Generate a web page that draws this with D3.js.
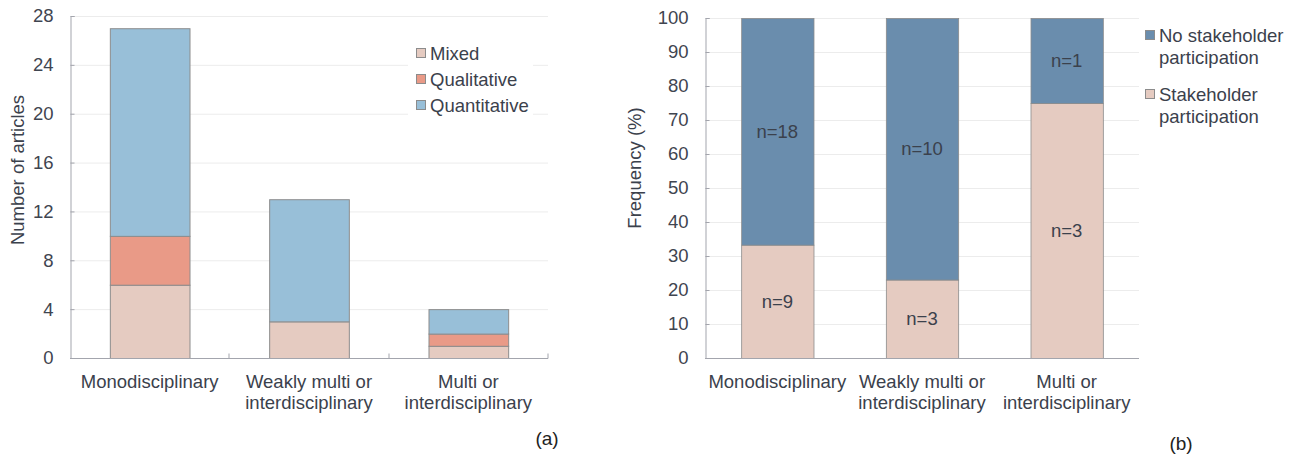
<!DOCTYPE html>
<html>
<head>
<meta charset="utf-8">
<script src="https://cdn.jsdelivr.net/npm/d3@7"></script>
<style>
  body { margin: 0; background: #fff; }
  svg { display: block; font-family: Arial, "Liberation Sans", sans-serif; }
  .tick text { fill: #3f4550; font-size: 18.5px; }
</style>
</head>
<body>
<svg id="chart" width="1298" height="455"></svg>
<script>
const categories = ['Monodisciplinary', 'Weakly multi or interdisciplinary', 'Multi or interdisciplinary'];
const catLines = [['Monodisciplinary'], ['Weakly multi or', 'interdisciplinary'], ['Multi or', 'interdisciplinary']];

// panel (a): number of articles by method
const methods = ['Mixed', 'Qualitative', 'Quantitative'];
const mixed = [6, 3, 1];
const qualitative = [4, 0, 1];
const quantitative = [17, 10, 2];
const articleTicks = [0, 4, 8, 12, 16, 20, 24, 28];

// panel (b): stakeholder participation counts
const participation = ['Stakeholder participation', 'No stakeholder participation'];
const withStake = [9, 3, 3];
const noStake = [18, 10, 1];
const freqTicks = [0, 10, 20, 30, 40, 50, 60, 70, 80, 90, 100];

const textColor = '#3b414c';
const fs = '18.5px';
const svg = d3.select('#chart');

// ---------- panel (a)
const a = { left: 70, right: 548, top: 16, bottom: 358 };
const xA = d3.scaleBand().domain(categories).range([a.left, a.right]).paddingInner(0.5).paddingOuter(0.25);
const yA = d3.scaleLinear().domain([0, 28]).range([a.bottom, a.top]);
const colA = d3.scaleOrdinal().domain(methods).range(['#e5cbc1', '#e99a87', '#98bfd8']);

const gA = svg.append('g');
gA.selectAll('.grid').data(articleTicks.slice(1)).enter().append('line')
  .attr('x1', a.left).attr('x2', a.right)
  .attr('y1', d => yA(d) + 0.5).attr('y2', d => yA(d) + 0.5)
  .attr('stroke', '#ececec');

const tableA = categories.map((c, i) => ({ cat: c, Mixed: mixed[i], Qualitative: qualitative[i], Quantitative: quantitative[i] }));
const stackA = d3.stack().keys(methods)(tableA);
gA.selectAll('.layer').data(stackA).enter().append('g')
  .attr('fill', d => colA(d.key))
  .selectAll('rect').data(d => d.filter(p => p[1] > p[0])).enter().append('rect')
  .attr('x', d => xA(d.data.cat) + 0.5)
  .attr('width', xA.bandwidth())
  .attr('y', d => yA(d[1]) + 0.5)
  .attr('height', d => yA(d[0]) - yA(d[1]))
  .attr('stroke', '#8c8c8c').attr('stroke-width', 1);

const axA = gA.append('g').attr('transform', `translate(${a.left + 0.5},0)`)
  .call(d3.axisLeft(yA).tickValues(articleTicks).tickSize(-4).tickPadding(17));
axA.select('.domain').attr('stroke', '#a3a5ad');
axA.selectAll('.tick line').attr('stroke', '#a3a5ad');

const xaxA = gA.append('g').attr('transform', `translate(0,${a.bottom + 0.5})`);
xaxA.append('line').attr('x1', a.left).attr('x2', a.right).attr('stroke', '#a3a5ad');
const step = xA.step();
xaxA.selectAll('.sep').data(categories).enter().append('line')
  .attr('x1', d => Math.round(xA(d) - step * 0.25 + step)).attr('x2', d => Math.round(xA(d) - step * 0.25 + step))
  .attr('y1', 0).attr('y2', -5).attr('stroke', '#a3a5ad');

function catLabels(g, x, y0) {
  g.selectAll('.cat').data(categories).enter().append('text')
    .attr('x', d => x(d) + x.bandwidth() / 2)
    .attr('y', y0)
    .attr('text-anchor', 'middle')
    .attr('fill', textColor).style('font-size', fs)
    .each(function(d, i) {
      d3.select(this).selectAll('tspan').data(catLines[i]).enter().append('tspan')
        .attr('x', x(d) + x.bandwidth() / 2)
        .attr('dy', (t, j) => j === 0 ? 0 : 21)
        .text(t => t);
    });
}
catLabels(gA, xA, 388);

gA.append('text').attr('transform', 'translate(24,170) rotate(-90)')
  .attr('text-anchor', 'middle').attr('fill', textColor).style('font-size', fs)
  .text('Number of articles');

const legA = gA.append('g');
legA.append('rect').attr('x', 408).attr('y', 38).attr('width', 125).attr('height', 80).attr('fill', '#fff');
const legAItems = legA.selectAll('.li').data(methods).enter().append('g')
  .attr('transform', (d, i) => `translate(416,${53 + i * 26})`);
legAItems.append('rect').attr('x', 0.5).attr('y', -4.5).attr('width', 9).attr('height', 9)
  .attr('fill', d => colA(d)).attr('stroke', '#8c8c8c');
legAItems.append('text').attr('x', 14).attr('y', 6.5).attr('fill', textColor).style('font-size', fs).text(d => d);

svg.append('text').attr('x', 547).attr('y', 445).attr('text-anchor', 'middle')
  .attr('fill', '#222').style('font-size', '19px').text('(a)');

// ---------- panel (b)
const b = { left: 705, right: 1139, top: 18, bottom: 358 };
const xB = d3.scaleBand().domain(categories).range([b.left, b.right]).paddingInner(0.5).paddingOuter(0.25);
const yB = d3.scaleLinear().domain([0, 100]).range([b.bottom, b.top]);
const colB = d3.scaleOrdinal().domain(participation).range(['#e5cbc1', '#6a8dad']);

const gB = svg.append('g');
gB.selectAll('.grid').data(freqTicks.slice(1)).enter().append('line')
  .attr('x1', b.left).attr('x2', b.right)
  .attr('y1', d => yB(d) + 0.5).attr('y2', d => yB(d) + 0.5)
  .attr('stroke', '#ececec');

const tableB = categories.map((c, i) => {
  const tot = withStake[i] + noStake[i];
  return { cat: c, n: [withStake[i], noStake[i]],
    'Stakeholder participation': withStake[i] / tot * 100,
    'No stakeholder participation': noStake[i] / tot * 100 };
});
const stackB = d3.stack().keys(participation)(tableB);
const layersB = gB.selectAll('.layer').data(stackB).enter().append('g')
  .attr('fill', d => colB(d.key));
layersB.selectAll('rect').data(d => d).enter().append('rect')
  .attr('x', d => xB(d.data.cat) + 0.5)
  .attr('width', xB.bandwidth())
  .attr('y', d => yB(d[1]) + 0.5)
  .attr('height', d => yB(d[0]) - yB(d[1]))
  .attr('stroke', '#8c8c8c').attr('stroke-width', 0.8);
layersB.each(function(layer, li) {
  d3.select(this).selectAll('text').data(layer).enter().append('text')
    .attr('x', d => xB(d.data.cat) + xB.bandwidth() / 2)
    .attr('y', d => yB((d[0] + d[1]) / 2) + 6.5)
    .attr('text-anchor', 'middle')
    .attr('fill', textColor).style('font-size', fs)
    .text(d => 'n=' + d.data.n[li]);
});

const axB = gB.append('g').attr('transform', `translate(${b.left + 0.5},0)`)
  .call(d3.axisLeft(yB).tickValues(freqTicks).tickSize(-4).tickPadding(17));
axB.select('.domain').attr('stroke', '#a3a5ad');
axB.selectAll('.tick line').attr('stroke', '#a3a5ad');
gB.append('line').attr('x1', b.left).attr('x2', b.right)
  .attr('y1', b.bottom + 0.5).attr('y2', b.bottom + 0.5).attr('stroke', '#a3a5ad');

catLabels(gB, xB, 388);

gB.append('text').attr('transform', 'translate(641,168) rotate(-90)')
  .attr('text-anchor', 'middle').attr('fill', textColor).style('font-size', fs)
  .text('Frequency (%)');

const legB = gB.selectAll('.lb').data(participation.slice().reverse()).enter().append('g')
  .attr('transform', (d, i) => `translate(1145,${35 + i * 59})`);
legB.append('rect').attr('x', 0.5).attr('y', -4.5).attr('width', 9).attr('height', 9)
  .attr('fill', d => colB(d)).attr('stroke', '#8c8c8c');
legB.append('text').attr('fill', textColor).style('font-size', fs)
  .each(function(d) {
    const words = d.split(' ');
    const lines = [words.slice(0, -1).join(' '), words[words.length - 1]];
    d3.select(this).selectAll('tspan').data(lines).enter().append('tspan')
      .attr('x', 14).attr('y', (t, j) => 6.5 + j * 22).text(t => t);
  });

svg.append('text').attr('x', 1181).attr('y', 450).attr('text-anchor', 'middle')
  .attr('fill', '#222').style('font-size', '19px').text('(b)');
</script>
</body>
</html>
